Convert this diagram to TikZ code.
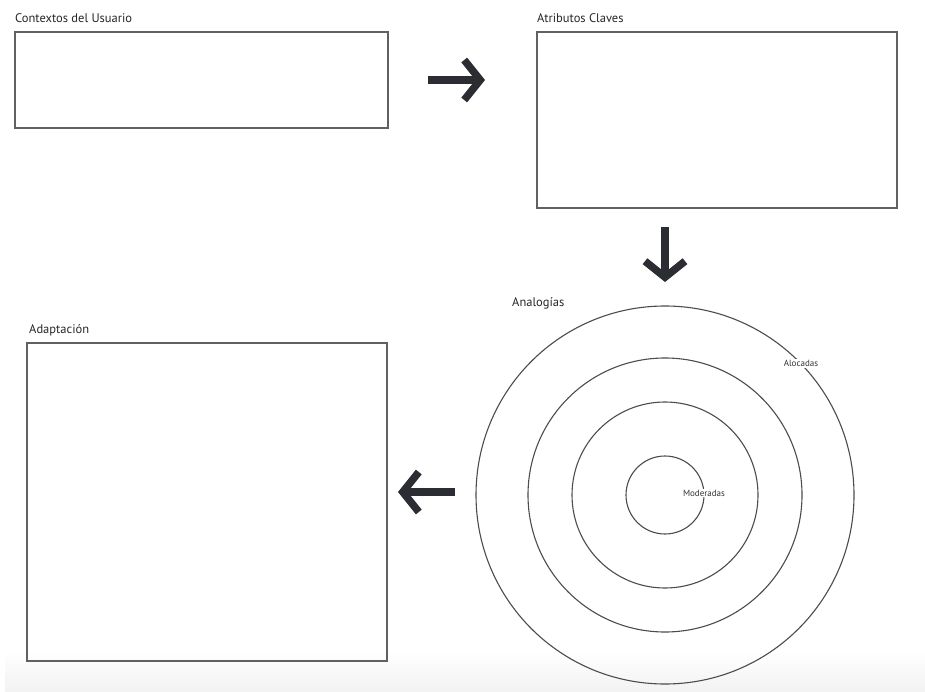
\documentclass[tikz,border=0pt]{standalone}
\usepackage{fontspec}
\setmainfont{PT Sans}
\usetikzlibrary{arrows.meta}
\usetikzlibrary{positioning}
\definecolor{arrowgray}{HTML}{2B2D33}

\begin{document}
\begin{tikzpicture}[x=1pt, y=-1pt] % pixel coordinates, y pointing down
    \tikzstyle{box}=[draw=black!62, line width=1.2pt, inner sep=0pt, outer sep=0pt]
    \tikzstyle{title}=[font=\fontsize{12.5}{14}\selectfont, text=black!85, inner sep=0pt, anchor=base west]
    \tikzstyle{ring}=[circle, draw=black!70, line width=1.1pt, inner sep=0pt, outer sep=0pt]
    \tikzstyle{ringlabel}=[font=\fontsize{9}{10}\selectfont, fill=white, inner sep=1pt, text=black!80]
    \tikzstyle{bigarrow}=[line width=7.5pt, draw=arrowgray, -{Straight Barb[length=16pt, width=40pt, line cap=butt, line join=miter]}]
    \useasboundingbox (0,0) rectangle (925,692);
    \shade[top color=white, bottom color=black!5] (5,650) rectangle (925,692); % grey strip at the bottom

    % boxes
    \node[box, minimum width=373pt, minimum height=96pt] (ctx) at (201.5,80) {};
    \node[box, minimum width=360pt, minimum height=176pt] (attr) at (717,120) {};
    \node[box, minimum width=360pt, minimum height=318pt] (adapt) at (207,502) {};
    \node[title] (ctxtitle) at ([yshift=9pt]ctx.north west) {Contextos del Usuario};
    \node[title] (attrtitle) at ([yshift=9pt]attr.north west) {Atributos Claves};
    \node[title] (adapttitle) at ([xshift=2pt, yshift=10pt]adapt.north west) {Adaptación};

    % rings
    \node[ring, minimum size=378pt] (outer) at (665,495) {};
    \node[ring, minimum size=274pt] (second) at (outer.center) {};
    \node[ring, minimum size=186pt] (third) at (outer.center) {};
    \node[ring, minimum size=78pt] (inner) at (outer.center) {};
    \node[title] (ringtitle) at ([xshift=-153pt]outer.north) {Analogías};
    \node[ringlabel] (alocadas) at (outer.44) {Alocadas};
    \node[ringlabel] (moderadas) at ([yshift=2pt]inner.east) {Moderadas};

    % arrows
    \draw[bigarrow, shorten <=40pt, shorten >=52pt] (ctx.east) -- (ctx.east -| attr.west);
    \draw[bigarrow, shorten <=19pt, shorten >=24pt] (attr.south -| outer.north) -- (outer.north);
    \draw[bigarrow, shorten <=21pt, shorten >=11pt] ([yshift=3pt]outer.west) -- ([yshift=3pt]outer.west -| adapt.east);
\end{tikzpicture}
\end{document}
